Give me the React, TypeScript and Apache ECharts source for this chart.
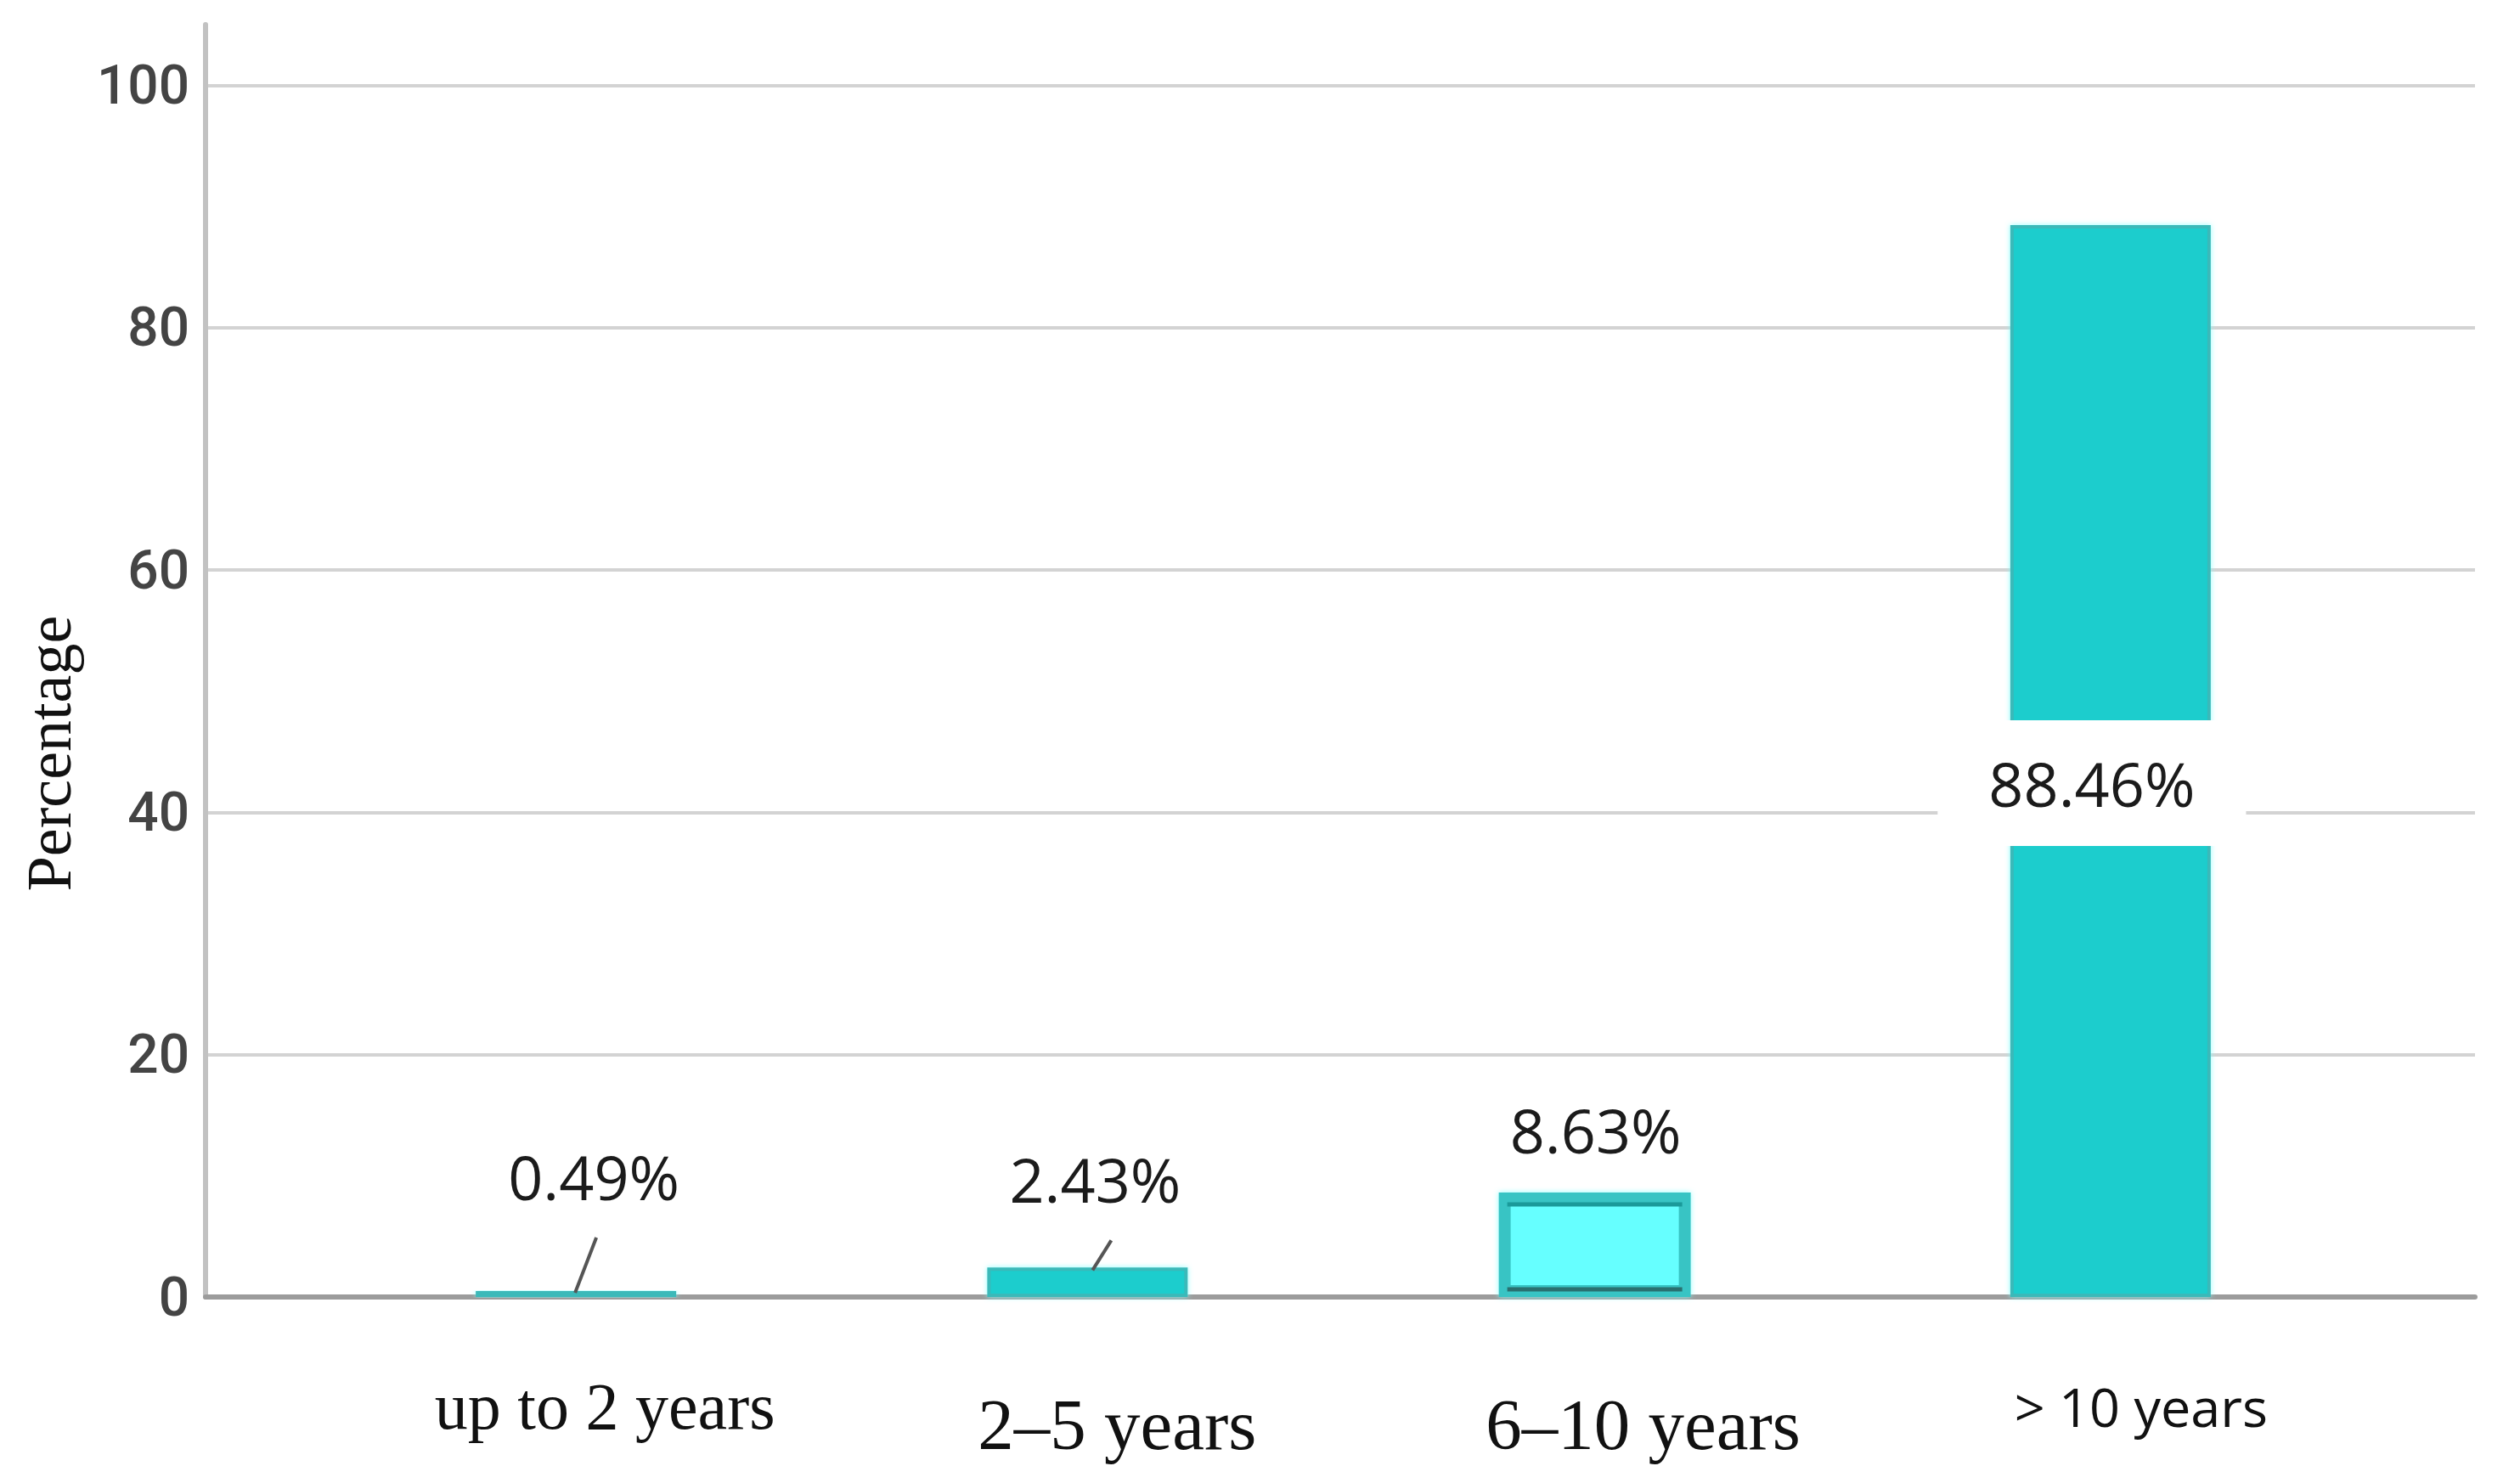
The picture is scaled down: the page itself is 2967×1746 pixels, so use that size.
import React, { useEffect, useRef } from "react";
import * as echarts from "echarts";

const categories = ["up to 2 years", "2–5 years", "6–10 years", "> 10 years"];
const percentages = [0.49, 2.43, 8.63, 88.46];
const valueLabels = ["0.49%", "2.43%", "8.63%", "88.46%"];
const yTicks = [0, 20, 40, 60, 80, 100];
const highlightedIndex = 2;

const TEAL = "#1ccdcd";
const TEAL_EDGE = "#3bb9b9";
const LIGHT = "#66ffff";

export default function App() {
  const ref = useRef<HTMLDivElement>(null);

  useEffect(() => {
    if (!ref.current) return;
    const chart = echarts.init(ref.current, undefined, { renderer: "svg" });

    const valueLabelStyle = {
      fontFamily: "'Open Sans', 'Noto Sans', sans-serif",
      fontSize: 72,
      color: "#1b1b1b",
      lineHeight: 86,
    };

    const labelFor = (i: number): any => {
      if (i === 0) return { show: true, position: "top", distance: 92, offset: [21, 0], ...valueLabelStyle };
      if (i === 1) return { show: true, position: "top", distance: 61, offset: [9, 0], ...valueLabelStyle };
      if (i === 2) return { show: true, position: "top", distance: 31, offset: [1, 0], ...valueLabelStyle };
      return {
        show: true,
        position: "inside",
        offset: [-22, 26],
        backgroundColor: "#ffffff",
        padding: [31, 60],
        ...valueLabelStyle,
      };
    };

    const mainData = percentages.map((v, i) =>
      i === highlightedIndex
        ? "-"
        : {
            value: v,
            label: { ...labelFor(i), formatter: valueLabels[i] },
            itemStyle: {
              color: TEAL,
              borderColor: TEAL_EDGE,
              borderWidth: 4,
              shadowColor: "rgba(130,255,255,0.9)",
              shadowBlur: 6,
            },
          }
    );
    const highlightData = percentages.map((v, i) =>
      i === highlightedIndex
        ? {
            value: v,
            label: { ...labelFor(i), formatter: valueLabels[i] },
            itemStyle: {
              color: LIGHT,
              borderColor: "#38c4c4",
              borderWidth: 14,
              shadowColor: "rgba(130,255,255,0.9)",
              shadowBlur: 6,
            },
          }
        : "-"
    );

    chart.setOption({
      animation: false,
      backgroundColor: "#ffffff",
      grid: [
        { left: 242, right: 53, top: 29, bottom: 219 },
        { left: 372, right: 186, top: 29, bottom: 219 },
      ],
      xAxis: [
        {
          gridIndex: 0,
          type: "category",
          data: [""],
          axisLine: { show: true, lineStyle: { color: "#9c9c9c", width: 6 } },
          axisTick: { show: false },
          axisLabel: { show: false },
          splitLine: { show: false },
        },
        {
          gridIndex: 1,
          type: "category",
          data: categories,
          axisLine: { show: false },
          axisTick: { show: false },
          splitLine: { show: false },
          axisLabel: {
            margin: 78,
            interval: 0,
            formatter: (v: string, i: number) => `{c${i}|${v}}`,
            rich: {
              c0: { fontFamily: "'Liberation Serif', serif", fontSize: 78, color: "#111", lineHeight: 100, padding: [0, 0, 0, 78] },
              c1: { fontFamily: "'Liberation Serif', serif", fontSize: 85, color: "#111", lineHeight: 144, padding: [0, 0, 0, 80] },
              c2: { fontFamily: "'Liberation Serif', serif", fontSize: 85, color: "#111", lineHeight: 144, padding: [0, 0, 0, 114] },
              c3: { fontFamily: "'Open Sans', sans-serif", fontSize: 63, color: "#111", lineHeight: 100, padding: [0, 0, 0, 82] },
            },
          },
        },
      ],
      yAxis: [
        {
          gridIndex: 0,
          type: "value",
          min: 0,
          max: 105,
          interval: 20,
          axisLine: { show: true, lineStyle: { color: "#c2c2c2", width: 6 } },
          axisTick: { show: false },
          axisLabel: {
            margin: 19,
            fontFamily: "Roboto, sans-serif",
            fontSize: 64,
            fontWeight: 500,
            color: "#444444",
            showMaxLabel: false,
            formatter: (v: number) => (yTicks.includes(v) ? String(v) : ""),
          },
          splitLine: { show: true, showMaxLine: false, lineStyle: { color: "#d3d3d3", width: 4 } },
        },
        { gridIndex: 1, type: "value", min: 0, max: 105, interval: 20, show: false },
      ],
      series: [
        {
          type: "bar",
          xAxisIndex: 1,
          yAxisIndex: 1,
          barWidth: 236,
          data: mainData,
          z: 3,
        },
        {
          type: "bar",
          xAxisIndex: 1,
          yAxisIndex: 1,
          barWidth: 226,
          barGap: "-100%",
          data: highlightData,
          z: 3,
        },
      ],
    });

    const px = (i: number, v: number) =>
      chart.convertToPixel({ xAxisIndex: 1, yAxisIndex: 1 } as any, [i, v]) as number[];

    const p0 = px(0, percentages[0]);
    const p1 = px(1, percentages[1]);
    const p2 = px(2, percentages[2]);
    const base2 = px(2, 0);

    chart.setOption({
      graphic: [
        {
          type: "line",
          z: 10,
          shape: { x1: p0[0] + 29, y1: p0[1] - 63, x2: p0[0] + 4, y2: p0[1] + 2 },
          style: { stroke: "#555", lineWidth: 4 },
        },
        {
          type: "line",
          z: 10,
          shape: { x1: p1[0] + 33, y1: p1[1] - 32, x2: p1[0] + 11, y2: p1[1] + 3 },
          style: { stroke: "#555", lineWidth: 4 },
        },
        {
          type: "line",
          z: 10,
          shape: { x1: p2[0] - 103, y1: p2[1] + 14, x2: p2[0] + 103, y2: p2[1] + 14 },
          style: { stroke: "#1a9a9a", lineWidth: 5 },
        },
        {
          type: "line",
          z: 10,
          shape: { x1: p2[0] - 103, y1: base2[1] - 9, x2: p2[0] + 103, y2: base2[1] - 9 },
          style: { stroke: "#2a7070", lineWidth: 5 },
        },
        {
          type: "text",
          x: 58,
          y: 887,
          rotation: Math.PI / 2,
          style: {
            text: "Percentage",
            font: "74px 'Liberation Serif', serif",
            fill: "#111",
            textAlign: "center",
            textVerticalAlign: "middle",
          },
        },
      ],
    });

    return () => chart.dispose();
  }, []);

  return (
    <div
      ref={ref}
      style={{ position: "absolute", left: 0, top: 0, width: 2967, height: 1746, background: "#fff" }}
    />
  );
}
